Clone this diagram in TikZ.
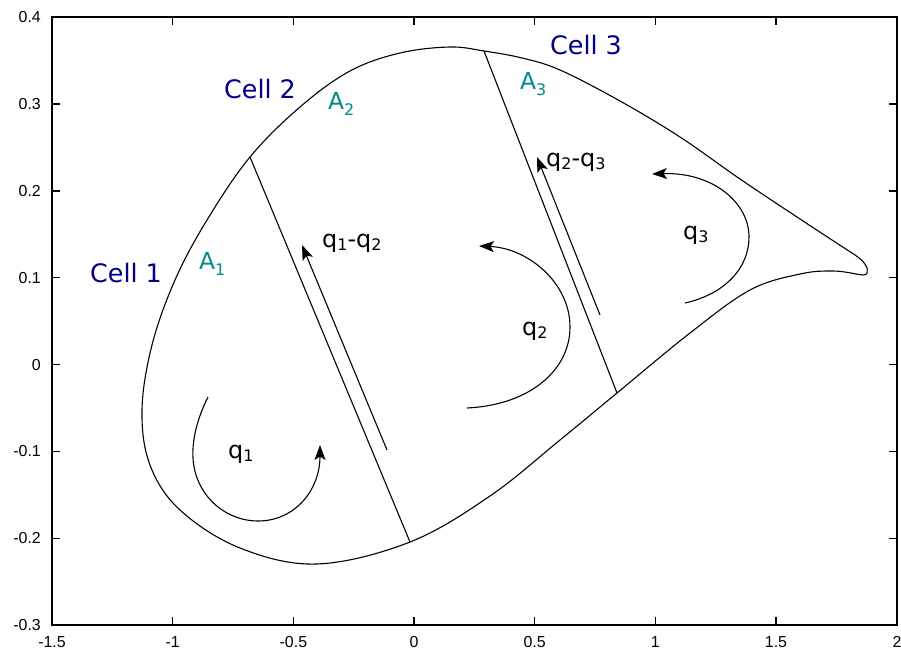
\documentclass[tikz,border=0pt]{standalone}
\usepackage{fontspec}
\setmainfont{DejaVu Sans}
\newfontfamily\tickfont{Liberation Sans}
\usetikzlibrary{arrows.meta}
\definecolor{cellblue}{RGB}{0,0,139}
\definecolor{areateal}{RGB}{0,139,139}
\newcommand\lowsub[2]{\raisebox{-#1}{\fontsize{16}{16}\selectfont #2}}
\begin{document}
\begin{tikzpicture}[x=1bp,y=-1bp,
  frame/.style={line width=1.4bp},
  curve/.style={line width=1.1bp, line join=round},
  flow/.style={line width=1.1bp, -{Stealth[length=15bp,width=11bp,inset=3.5bp]}},
  celllabel/.style={text=cellblue, font=\fontsize{25.5}{25.5}\selectfont, inner sep=0pt, anchor=base west},
  arealabel/.style={text=areateal, font=\fontsize{23.5}{23.5}\selectfont, inner sep=0pt, anchor=base west},
  qlabel/.style={text=black, font=\fontsize{24}{24}\selectfont, inner sep=0pt, anchor=base west},
  ticklabel/.style={font=\tickfont\fontsize{16}{16}\selectfont, inner sep=0pt}]
\useasboundingbox (0,0) rectangle (901,652);
\fill[white] (0,0) rectangle (901,652);
% frame
\draw[frame] (52,17) rectangle (897,625);
% x ticks
\foreach \px/\lab in {52/-1.5,172.7/-1,293.4/-0.5,414/0,534.7/0.5,655.3/1,776/1.5,897/2}{
  \draw[frame] (\px,625) -- (\px,617);
  \draw[frame] (\px,17) -- (\px,25);
  \node[ticklabel] (xl\lab) at (\px,642) {\lab};
}
% y ticks
\foreach \py/\lab in {17/0.4,104/0.3,190.8/0.2,277.7/0.1,364.6/0,451.5/-0.1,538.4/-0.2,625/-0.3}{
  \draw[frame] (52,\py) -- (60,\py);
  \draw[frame] (897,\py) -- (889,\py);
  \node[ticklabel,anchor=east] (yl\lab) at (41,\py) {\lab};
}
% outline
\draw[curve] plot[smooth, tension=0.6] coordinates {
  (856,274) (833,271) (800,274) (750,290) (690,333) (617,393) (560,440)
  (490,496) (410,542) (317,564) (240,548) (180,510) (150,465) (142,410)
  (152,345) (175,280) (207,220) (250,157) (300,107) (350,71) (400,53)
  (450,47) (484,51) (522,58) (560,70) (620,101) (680,137) (740,179)
  (800,219) (855,255)}
  .. controls (864,261) and (869,268) .. (867,273)
  .. controls (866,276) and (862,275) .. (856,274);
% division lines
\coordinate (l1a) at (250,157); \coordinate (l1b) at (410,542);
\coordinate (l2a) at (484,51);  \coordinate (l2b) at (617,393);
\draw[curve] (l1a) -- (l1b);
\draw[curve] (l2a) -- (l2b);
% exchange arrows
\coordinate (e1a) at (387,450); \coordinate (e1b) at (302,245);
\coordinate (e2a) at (600,315); \coordinate (e2b) at (537,157);
\draw[flow] (e1a) -- (e1b);
\draw[flow] (e2a) -- (e2b);
% circulation arrows
\coordinate (r1a) at (208,397); \coordinate (r1b) at (320,445);
\coordinate (r2a) at (467,408); \coordinate (r2b) at (479,246);
\coordinate (r3a) at (685,303); \coordinate (r3b) at (652,174);
\draw[flow] (r1a) .. controls (197,419) and (192,440) .. (193,458)
  .. controls (195,495) and (225,521) .. (258,521)
  .. controls (295,521) and (320,490) .. (r1b);
\draw[flow] (r2a) .. controls (530,405) and (570,370) .. (570,327)
  .. controls (570,282) and (527,248) .. (r2b);
\draw[flow] (r3a) .. controls (725,294) and (749,268) .. (749,237)
  .. controls (749,202) and (712,172) .. (r3b);
% labels
\node[celllabel] (c1) at (90,282) {Cell 1};
\node[celllabel] (c2) at (224,99) {Cell 2};
\node[celllabel] (c3) at (550,55) {Cell 3};
\node[arealabel] (a1) at (199,269) {A\lowsub{6bp}{1}};
\node[arealabel] (a2) at (328,110) {A\lowsub{6bp}{2}};
\node[arealabel] (a3) at (520,90) {A\lowsub{6bp}{3}};
\node[qlabel] (q1) at (228,458) {q\lowsub{3bp}{1}};
\node[qlabel] (q12) at (322,247) {q\lowsub{3bp}{1}-q\lowsub{3bp}{2}};
\node[qlabel] (q2) at (522,335) {q\lowsub{3bp}{2}};
\node[qlabel] (q23) at (546,167) {q\lowsub{3bp}{2}-q\lowsub{3bp}{3}};
\node[qlabel] (q3) at (683,239) {q\lowsub{3bp}{3}};
\end{tikzpicture}
\end{document}
